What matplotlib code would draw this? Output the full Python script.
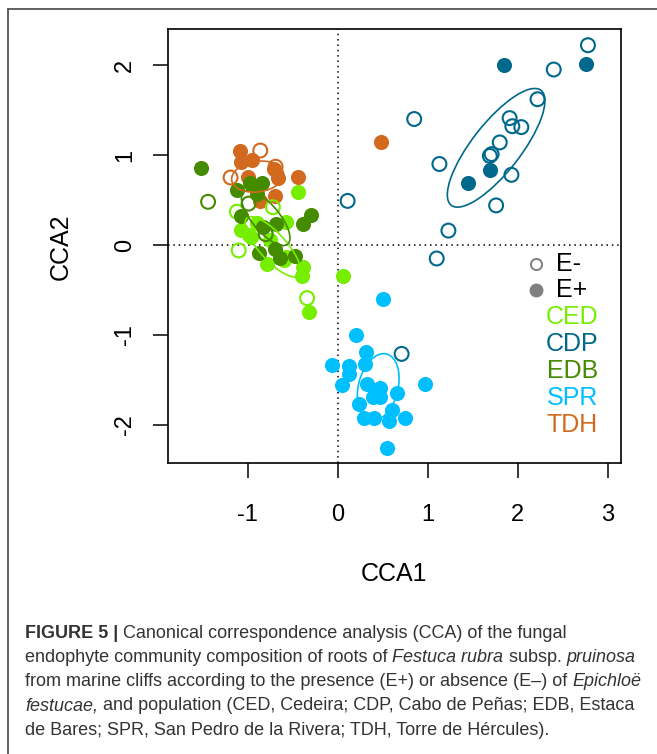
import matplotlib
matplotlib.use("Agg")
import matplotlib.pyplot as plt
from matplotlib.patches import Ellipse
from matplotlib.lines import Line2D

plt.rcParams['font.family'] = ['Liberation Sans', 'DejaVu Sans']
plt.rcParams['axes.unicode_minus'] = False

# population colours (R named colours)
colors = {'CED': '#76EE00', 'CDP': '#00688B', 'EDB': '#458B00',
          'SPR': '#00BFFF', 'TDH': '#D2691E'}
pops = ['CED', 'CDP', 'EDB', 'SPR', 'TDH']

# site scores: x, y and endophyte status (1 = E+, 0 = E-)
ced_x = [-0.44, -1.07, -0.96, -0.99, -0.90, -0.57, -0.75, -0.78, -0.60, -0.39, -0.40, 0.06, -0.32, -0.57,
         -1.10, -1.12, -0.72, -0.34]
ced_y = [0.59, 0.17, 0.09, 0.11, 0.24, 0.26, 0.06, -0.21, -0.17, -0.24, -0.35, -0.35, -0.74, -0.13,
         -0.06, 0.37, 0.42, -0.59]
ced_e = [1] * 14 + [0] * 4

cdp_x = [2.78, 2.40, 2.22, 0.85, 1.91, 1.94, 2.04, 1.80, 1.71, 1.69, 1.13, 1.93, 1.76, 1.23, 0.11, 1.10, 0.71,
         1.85, 2.76, 1.69, 1.45]
cdp_y = [2.22, 1.95, 1.62, 1.40, 1.41, 1.32, 1.31, 1.14, 1.01, 0.99, 0.90, 0.78, 0.44, 0.16, 0.49, -0.15, -1.21,
         2.00, 2.01, 0.83, 0.69]
cdp_e = [0] * 17 + [1] * 4

edb_x = [-1.52, -1.12, -0.97, -0.84, -0.90, -1.07, -0.30, -0.39, -0.83, -0.68, -0.87, -0.70, -0.64, -0.47,
         -1.44, -0.99, -0.80]
edb_y = [0.86, 0.61, 0.69, 0.69, 0.57, 0.32, 0.33, 0.23, 0.20, 0.23, -0.09, -0.05, -0.14, -0.12,
         0.48, 0.46, 0.12]
edb_e = [1] * 14 + [0] * 3

spr_x = [0.50, 0.20, 0.31, -0.06, 0.12, 0.30, 0.12, 0.05, 0.32, 0.47, 0.39, 0.47, 0.66, 0.97, 0.24, 0.60,
         0.29, 0.40, 0.57, 0.75, 0.55]
spr_y = [-0.60, -1.00, -1.19, -1.33, -1.35, -1.32, -1.43, -1.56, -1.55, -1.59, -1.69, -1.69, -1.64, -1.55,
         -1.77, -1.83, -1.92, -1.92, -1.96, -1.92, -2.26]
spr_e = [1] * 21

tdh_x = [-1.09, -0.95, -1.07, -1.00, -0.71, -0.66, -0.44, -0.86, -0.70, 0.48,
         -0.86, -1.19, -0.69]
tdh_y = [1.05, 0.95, 0.92, 0.76, 0.85, 0.74, 0.76, 0.49, 0.54, 1.15,
         1.05, 0.75, 0.87]
tdh_e = [1] * 10 + [0] * 3

# ellipses per population: centre x, centre y, major, minor, angle (deg)
ell_cx = [-0.72, 1.76, -0.80, 0.45, -0.89]
ell_cy = [-0.02, 1.08, 0.30, -1.58, 0.76]
ell_w = [0.86, 1.62, 0.76, 0.76, 0.58]
ell_h = [0.30, 0.54, 0.30, 0.44, 0.34]
ell_ang = [-48, 52, -50, 76, 8]

data = {'CED': (ced_x, ced_y, ced_e), 'CDP': (cdp_x, cdp_y, cdp_e), 'EDB': (edb_x, edb_y, edb_e),
        'SPR': (spr_x, spr_y, spr_e), 'TDH': (tdh_x, tdh_y, tdh_e)}

W, H = 657, 754
fig = plt.figure(figsize=(W / 100, H / 100), dpi=100)
ax = fig.add_axes([168.3 / W, 1 - 463.3 / H, 452.4 / W, 434.0 / H])

ax.axhline(0, color='black', ls=(0, (1, 2.5)), lw=1.1, zorder=1)
ax.axvline(0, color='black', ls=(0, (1, 2.5)), lw=1.1, zorder=1)

for p in ['CDP', 'SPR', 'TDH', 'CED', 'EDB']:
    xs, ys, es = data[p]
    fx = [x for x, e in zip(xs, es) if e == 1]
    fy = [y for y, e in zip(ys, es) if e == 1]
    ox = [x for x, e in zip(xs, es) if e == 0]
    oy = [y for y, e in zip(ys, es) if e == 0]
    ax.scatter(ox, oy, s=100, facecolors='none', edgecolors=colors[p], linewidths=1.5, zorder=3)
    ax.scatter(fx, fy, s=118, color=colors[p], linewidths=0, zorder=3)

for i, p in enumerate(pops):
    ax.add_patch(Ellipse((ell_cx[i], ell_cy[i]), ell_w[i], ell_h[i], angle=ell_ang[i],
                         fill=False, edgecolor=colors[p], lw=1.2, zorder=4))

ax.set_xlim(-1.882, 3.144)
ax.set_ylim(-2.426, 2.397)
ax.set_xticks([-1, 0, 1, 2, 3])
ax.set_yticks([-2, -1, 0, 1, 2])
ax.tick_params(direction='out', length=11, width=1.1, labelsize=17)
ax.tick_params(axis='x', pad=18)
ax.tick_params(axis='y', pad=12)
for lab in ax.get_yticklabels():
    lab.set_rotation(90)
    lab.set_va('center')
for s in ax.spines.values():
    s.set_linewidth(1.2)
ax.set_xlabel('CCA1', fontsize=18, labelpad=26)
ax.set_ylabel('CCA2', fontsize=18, labelpad=30)


def fx_(px):
    return px / W


def fy_(py):
    return 1 - py / H


# legend
fig.add_artist(Line2D([fx_(535.7)], [fy_(264)], marker='o', ms=8, mfc='none', mec='#808080', mew=1.4, ls=''))
fig.add_artist(Line2D([fx_(535.7)], [fy_(290)], marker='o', ms=9, mfc='#808080', mec='#808080', ls=''))
fig.text(fx_(556), fy_(264), 'E-', fontsize=18, va='center', ha='left')
fig.text(fx_(556), fy_(290), 'E+', fontsize=18, va='center', ha='left')
for i, p in enumerate(pops):
    fig.text(fx_(598), fy_(317 + 27 * i), p, fontsize=18, color=colors[p], va='center', ha='right')

# figure frame (left and top)
fig.add_artist(Line2D([fx_(8), fx_(8)], [fy_(9), 0], color='#555555', lw=1.3))
fig.add_artist(Line2D([fx_(8), 1], [fy_(9), fy_(9)], color='#555555', lw=1.3))

# caption with mixed styles
caption = [
    [("FIGURE 5 |", 'bold'), (" Canonical correspondence analysis (CCA) of the fungal", 'normal')],
    [("endophyte community composition of roots of ", 'normal'), ("Festuca rubra", 'italic'),
     (" subsp. ", 'normal'), ("pruinosa", 'italic')],
    [("from marine cliffs according to the presence (E+) or absence (E\u2013) of ", 'normal'),
     ("Epichlo\u00eb", 'italic')],
    [("festucae,", 'italic'), (" and population (CED, Cedeira; CDP, Cabo de Pe\u00f1as; EDB, Estaca", 'normal')],
    [("de Bares; SPR, San Pedro de la Rivera; TDH, Torre de H\u00e9rcules).", 'normal')],
]
renderer = fig.canvas.get_renderer()
cap_color = '#333333'
for li, segs in enumerate(caption):
    xpix = 25
    ypix = 633 + 24.3 * li
    for txt, style in segs:
        kw = dict(fontsize=13.0, color=cap_color, va='center', ha='left')
        if style == 'bold':
            kw['fontweight'] = 'bold'
        if style == 'italic':
            kw['fontstyle'] = 'italic'
        t = fig.text(fx_(xpix), fy_(ypix), txt, **kw)
        bb = t.get_window_extent(renderer=renderer)
        xpix += bb.width

fig.savefig('out.png', dpi=100)
